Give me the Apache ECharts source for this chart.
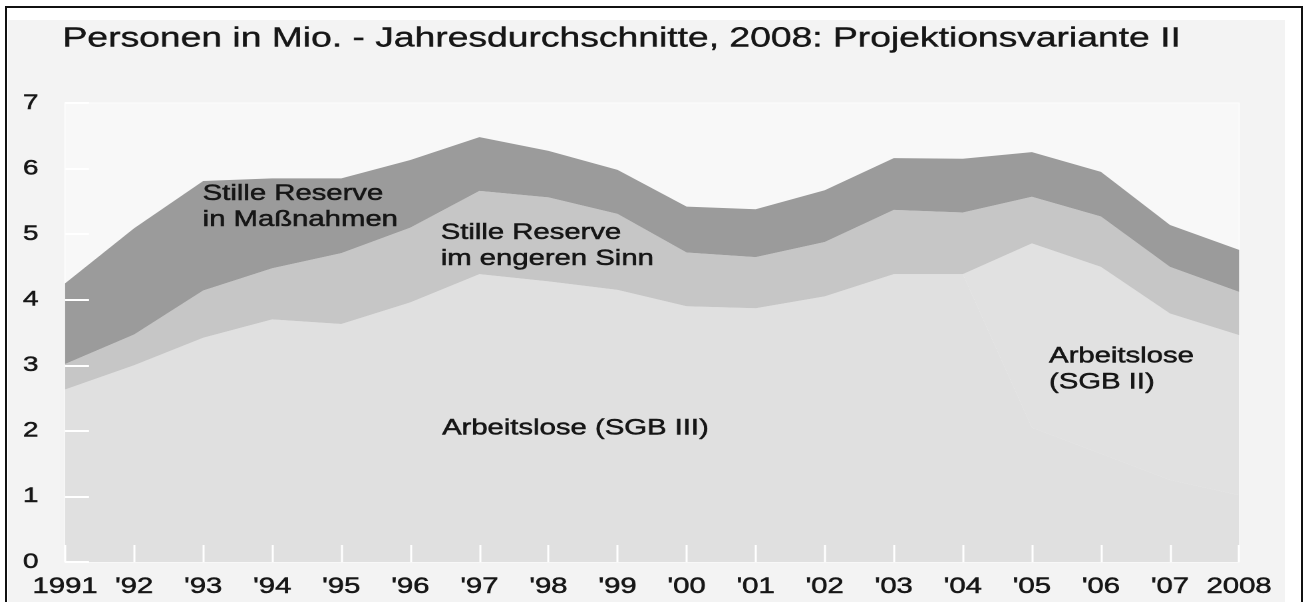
<!DOCTYPE html>
<html>
<head>
<meta charset="utf-8">
<script src="https://cdn.jsdelivr.net/npm/echarts@6/dist/echarts.min.js"></script>
<style>
  html, body { margin: 0; padding: 0; background: #fff; overflow: hidden; }
  #frame { position: absolute; left: 5px; top: 6px; width: 1294px; height: 620px; border: 2px solid #111; border-bottom: none; }
  #panel { position: absolute; left: 8px; top: 20px; width: 1277px; height: 600px; background: #f3f3f3; }
  #main { position: absolute; left: 0; top: 0; width: 980px; height: 602px; transform-origin: 0 0; }
</style>
</head>
<body>
<div id="frame"></div>
<div id="panel"></div>
<div id="main"></div>
<script>
// source picture is stretched sideways, so the chart is drawn narrow and scaled
var stretch = 1304 / 980;
document.getElementById('main').style.transform = 'scaleX(' + stretch + ')';

var years = ['1991', "'92", "'93", "'94", "'95", "'96", "'97", "'98", "'99",
  "'00", "'01", "'02", "'03", "'04", "'05", "'06", "'07", '2008'];

// Personen in Mio., Schichten von unten nach oben
var arbeitsloseSGB3 = [2.63, 3.00, 3.42, 3.70, 3.63, 3.96, 4.39, 4.28, 4.15,
  3.90, 3.87, 4.05, 4.39, 4.39, 2.05, 1.65, 1.25, 1.02];
var arbeitsloseSGB2 = [0, 0, 0, 0, 0, 0, 0, 0, 0,
  0, 0, 0, 0, 0, 2.81, 2.85, 2.54, 2.44];
var reserveEngerenSinn = [0.39, 0.47, 0.72, 0.78, 1.08, 1.14, 1.27, 1.28, 1.16,
  0.82, 0.78, 0.83, 0.98, 0.94, 0.71, 0.77, 0.71, 0.66];
var reserveMassnahmen = [1.23, 1.62, 1.67, 1.37, 1.14, 1.03, 0.82, 0.71, 0.67,
  0.70, 0.73, 0.79, 0.79, 0.82, 0.68, 0.68, 0.64, 0.64];

var font = "'Liberation Sans', Arial, sans-serif";
var textColor = '#161616';

function layer(name, values, color) {
  return {
    name: name,
    type: 'line',
    stack: 'total',
    data: values,
    showSymbol: false,
    silent: true,
    lineStyle: { width: 0 },
    areaStyle: { color: color, opacity: 1 },
    z: 2
  };
}

function note(text, x, y) {
  return {
    type: 'text',
    x: x,
    y: y,
    z: 10,
    style: {
      text: text,
      font: '22px ' + font,
      fill: textColor,
      stroke: textColor,
      lineWidth: 0.5,
      lineHeight: 26,
      align: 'left',
      verticalAlign: 'middle'
    }
  };
}

var myChart = echarts.init(document.getElementById('main'), null, { devicePixelRatio: 2 });
var option = {
  backgroundColor: 'transparent',
  animation: false,
  title: {
    text: 'Personen in Mio. - Jahresdurchschnitte, 2008: Projektionsvariante II',
    left: 47,
    top: 25,
    padding: 0,
    textStyle: { fontFamily: font, fontSize: 28, fontWeight: 'normal', color: textColor,
      textBorderColor: textColor, textBorderWidth: 0.4 }
  },
  grid: {
    left: 48.9,
    right: 48.8,
    top: 103,
    bottom: 40,
    show: true,
    backgroundColor: '#f8f8f8',
    borderColor: '#fcfcfc',
    borderWidth: 1
  },
  xAxis: {
    type: 'category',
    data: years,
    boundaryGap: false,
    z: 5,
    axisLine: { show: false },
    axisTick: { show: true, inside: true, length: 17, alignWithLabel: true,
      lineStyle: { color: '#ffffff', width: 1.5 } },
    axisLabel: { margin: 14, fontFamily: font, fontSize: 22, color: textColor, interval: 0,
      textBorderColor: textColor, textBorderWidth: 0.5 },
    splitLine: { show: false }
  },
  yAxis: {
    type: 'value',
    min: 0,
    max: 7,
    interval: 1,
    z: 5,
    axisLine: { show: false },
    axisTick: { show: true, inside: true, length: 18, lineStyle: { color: '#ffffff', width: 2 } },
    axisLabel: { margin: 20, fontFamily: font, fontSize: 21, color: textColor,
      textBorderColor: textColor, textBorderWidth: 0.5 },
    splitLine: { show: false }
  },
  series: [
    layer('Arbeitslose (SGB III)', arbeitsloseSGB3, '#e0e0e0'),
    layer('Arbeitslose (SGB II)', arbeitsloseSGB2, '#e1e1e1'),
    layer('Stille Reserve im engeren Sinn', reserveEngerenSinn, '#c6c6c6'),
    layer('Stille Reserve in Maßnahmen', reserveMassnahmen, '#9b9b9b')
  ],
  graphic: [
    note('Stille Reserve\nin Maßnahmen', 152.3, 207),
    note('Stille Reserve\nim engeren Sinn', 331.2, 246),
    note('Arbeitslose (SGB III)', 332.2, 428.5),
    note('Arbeitslose\n(SGB II)', 788.4, 369.5)
  ]
};
myChart.setOption(option);
</script>
</body>
</html>
